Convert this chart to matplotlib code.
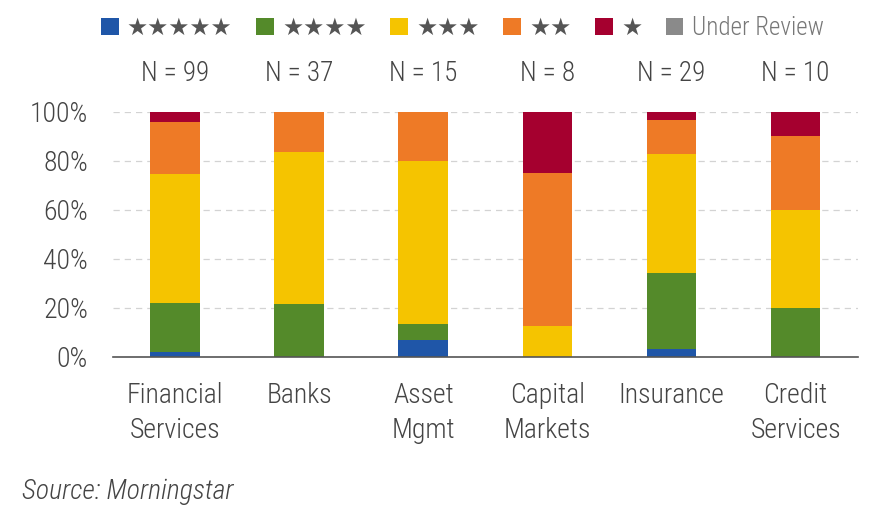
import numpy as np
from matplotlib import pyplot as plt
from matplotlib.patches import Patch

plt.rcParams['font.family'] = ['Roboto Condensed', 'DejaVu Sans']
plt.rcParams['font.weight'] = 300

categories = ["Financial\nServices", "Banks", "Asset\nMgmt", "Capital\nMarkets", "Insurance", "Credit\nServices"]
n_labels = ["N = 99", "N = 37", "N = 15", "N = 8", "N = 29", "N = 10"]

# share of companies per star rating (%)
five_star = [2.0, 0.0, 6.7, 0.0, 3.4, 0.0]
four_star = [20.2, 21.6, 6.7, 0.0, 31.0, 20.0]
three_star = [52.5, 62.2, 66.7, 12.5, 48.3, 40.0]
two_star = [21.2, 16.2, 20.0, 62.5, 13.8, 30.0]
one_star = [4.0, 0.0, 0.0, 25.0, 3.4, 10.0]
under_review = [0.0, 0.0, 0.0, 0.0, 0.0, 0.0]

series = [five_star, four_star, three_star, two_star, one_star, under_review]
labels = ["★★★★★", "★★★★", "★★★", "★★", "★", "Under Review"]
colors = ["#1f56a8", "#548a2a", "#f5c400", "#ee7a26", "#a5002f", "#8a8a8a"]

fig = plt.figure(figsize=(8.69, 5.18), dpi=100)
ax = fig.add_axes([0.130, 0.311, 0.857, 0.473])

x = np.arange(len(categories))
bottom = np.zeros(len(categories))
for vals, col in zip(series, colors):
    ax.bar(x, vals, width=0.4, bottom=bottom, color=col, zorder=3)
    bottom += np.array(vals)

ax.set_xlim(-0.5, 5.5)
ax.set_ylim(0, 100)
ax.set_yticks([0, 20, 40, 60, 80, 100])
ax.set_yticklabels(["0%", "20%", "40%", "60%", "80%", "100%"])
ax.set_xticks(x)
ax.set_xticklabels(categories, linespacing=1.4)
ax.tick_params(axis='both', length=0, labelsize=20, colors="#444444")
ax.tick_params(axis='x', pad=18)
ax.tick_params(axis='y', pad=18)
ax.yaxis.grid(True, linestyle=(0, (5, 4)), color="#d3d3d3", linewidth=0.9, zorder=0)
for s in ['top', 'right', 'left']:
    ax.spines[s].set_visible(False)
ax.spines['bottom'].set_color("#555555")
ax.spines['bottom'].set_linewidth(1.2)
ax.spines['bottom'].set_zorder(4)

for xi, t in zip(x, n_labels):
    ax.text(xi, 110, t, ha='center', va='bottom', fontsize=19.5, color="#444444", clip_on=False)

handles = [Patch(facecolor=c, edgecolor='none') for c in colors]
leg = fig.legend(handles, labels, loc='center', bbox_to_anchor=(0.532, 0.946), ncol=6,
                 frameon=False, fontsize=17, handlelength=0.75, handleheight=0.75,
                 handletextpad=0.35, columnspacing=1.0)
for t in leg.get_texts():
    t.set_color("#555555")
    t.set_family(['DejaVu Sans'])
leg.get_texts()[-1].set_family(['Roboto Condensed', 'DejaVu Sans'])
leg.get_texts()[-1].set_color("#777777")
leg.get_texts()[-1].set_fontsize(18)

fig.text(0.025, 0.037, "Source: Morningstar", fontsize=20, style='italic', color="#444444")

fig.savefig("out.png", dpi=100)
